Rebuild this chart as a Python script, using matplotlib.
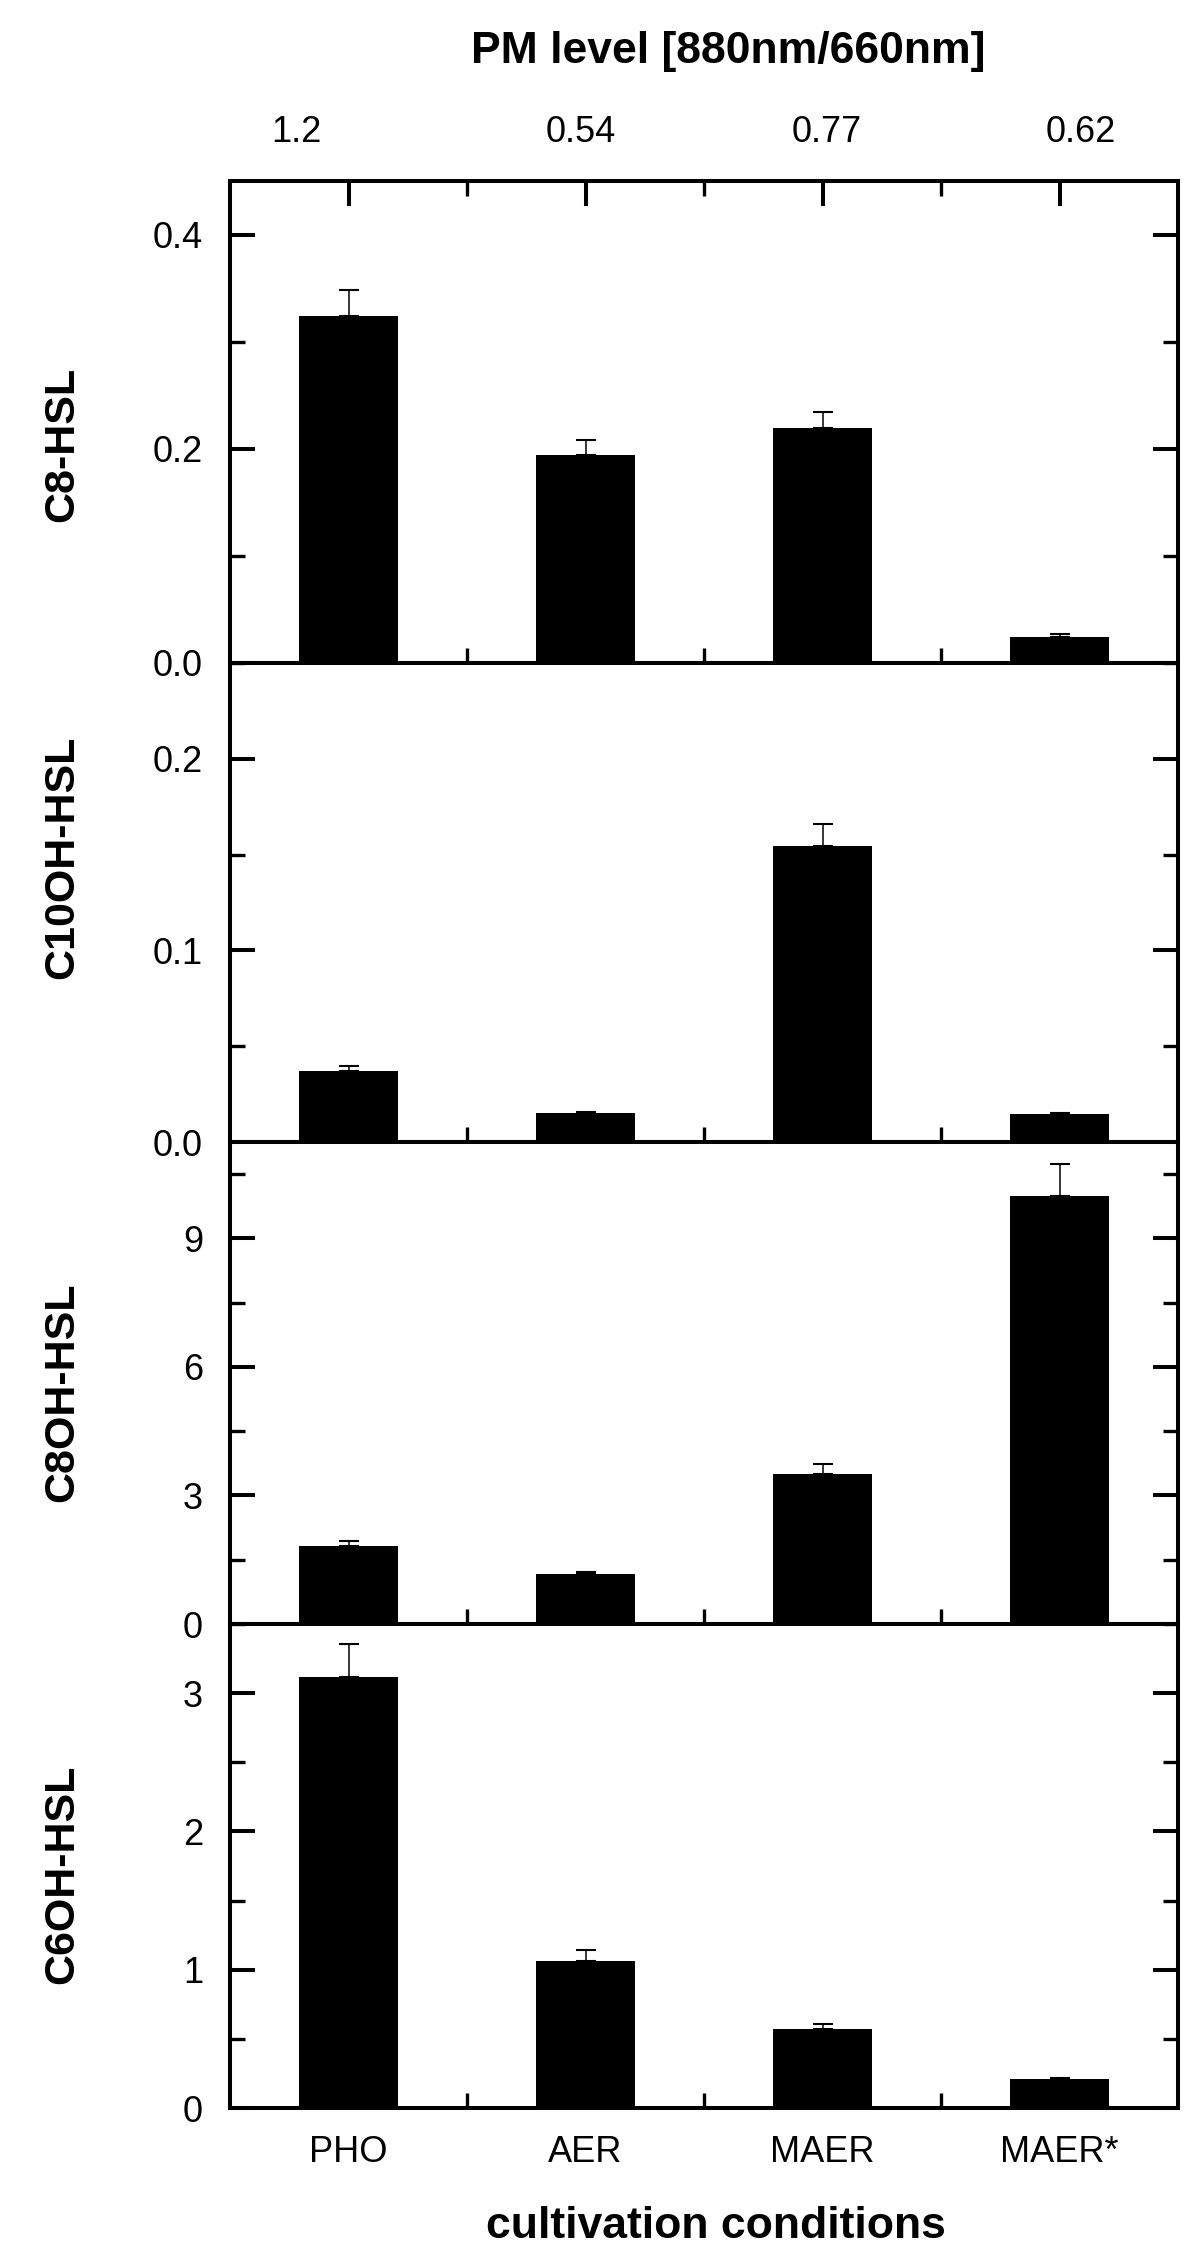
import matplotlib
matplotlib.use("Agg")
import matplotlib.pyplot as plt
from matplotlib.ticker import MultipleLocator, FixedLocator, FormatStrFormatter

plt.rcParams['font.family'] = ['Liberation Sans', 'DejaVu Sans']

# ---- data ----
conditions = ['PHO', 'AER', 'MAER', 'MAER*']
pm_levels = ['1.2', '0.54', '0.77', '0.62']
pm_label_shift = [-0.22, -0.02, 0.02, 0.09]

panel_names = ['C8-HSL', 'C10OH-HSL', 'C8OH-HSL', 'C6OH-HSL']
c8_hsl = [0.324, 0.194, 0.219, 0.0247]
c8_hsl_err = [0.024, 0.014, 0.015, 0.002]
c10oh_hsl = [0.0372, 0.0151, 0.1543, 0.0146]
c10oh_hsl_err = [0.0026, 0.0006, 0.0116, 0.0007]
c8oh_hsl = [1.82, 1.17, 3.49, 9.99]
c8oh_hsl_err = [0.12, 0.055, 0.25, 0.74]
c6oh_hsl = [3.12, 1.06, 0.571, 0.211]
c6oh_hsl_err = [0.236, 0.08, 0.04, 0.009]

values = [c8_hsl, c10oh_hsl, c8oh_hsl, c6oh_hsl]
errors = [c8_hsl_err, c10oh_hsl_err, c8oh_hsl_err, c6oh_hsl_err]
ylims = [0.45, 0.25, 11.25, 3.5]
major_steps = [0.2, 0.1, 3, 1]
minor_steps = [0.1, 0.05, 1.5, 0.5]
fmts = ['%.1f', '%.1f', '%d', '%d']
ylabel_pos = [0.454, 0.595, 0.481, 0.483]

# ---- layout ----
W, H = 1200, 2260
fig = plt.figure(figsize=(W / 100, H / 100), dpi=100)
left_px, right_px = 230, 1178
bounds_px = [181, 663, 1142, 1624, 2108]

x = list(range(1, len(conditions) + 1))
lw = 2.9

for i in range(4):
    top, bot = bounds_px[i], bounds_px[i + 1]
    ax = fig.add_axes([left_px / W, 1 - bot / H, (right_px - left_px) / W, (bot - top) / H])
    ax.bar(x, values[i], width=0.414, color='black', edgecolor='black', linewidth=0, zorder=2)
    ax.errorbar(x, values[i], yerr=[[0] * 4, errors[i]], fmt='none', ecolor='black',
                elinewidth=1.1, capsize=7.5, capthick=1.5, zorder=3)
    ax.set_xlim(0.5, 4.5)
    ax.set_ylim(0, ylims[i])
    for s in ax.spines.values():
        s.set_linewidth(lw)
        s.set_zorder(5)
    ax.yaxis.set_major_locator(MultipleLocator(major_steps[i]))
    ax.yaxis.set_minor_locator(MultipleLocator(minor_steps[i]))
    ax.yaxis.set_major_formatter(FormatStrFormatter(fmts[i]))
    ax.xaxis.set_major_locator(FixedLocator(x))
    ax.xaxis.set_minor_locator(FixedLocator([1.5, 2.5, 3.5]))
    ax.tick_params(which='major', direction='in', length=18, width=lw, labelsize=26, pad=19.5,
                   left=True, right=True, bottom=True, top=(i == 0))
    ax.tick_params(which='minor', direction='in', length=10.5, width=2.4,
                   left=True, right=True, bottom=True, top=(i == 0))
    ax.tick_params(axis='y', which='both', labelleft=True, labelright=False)
    if i == 3:
        ax.set_xticklabels(conditions)
    else:
        ax.tick_params(axis='x', which='both', labelbottom=False)
    ax.text(-0.177, ylabel_pos[i], panel_names[i], transform=ax.transAxes, rotation=90,
            ha='center', va='center', fontsize=31, fontweight='bold')
    if i == 0:
        for xi, lab, sh in zip(x, pm_levels, pm_label_shift):
            ax.text(xi + sh, 1 + 39 / (bot - top), lab, transform=ax.get_xaxis_transform(),
                    ha='center', va='baseline', fontsize=26)

fig.text(728 / W, 1 - 63 / H, 'PM level [880nm/660nm]', ha='center', va='baseline',
         fontsize=32, fontweight='bold')
fig.text(716 / W, 1 - 2238 / H, 'cultivation conditions', ha='center', va='baseline',
         fontsize=32, fontweight='bold')

fig.savefig('out.png', dpi=100, facecolor='white')
